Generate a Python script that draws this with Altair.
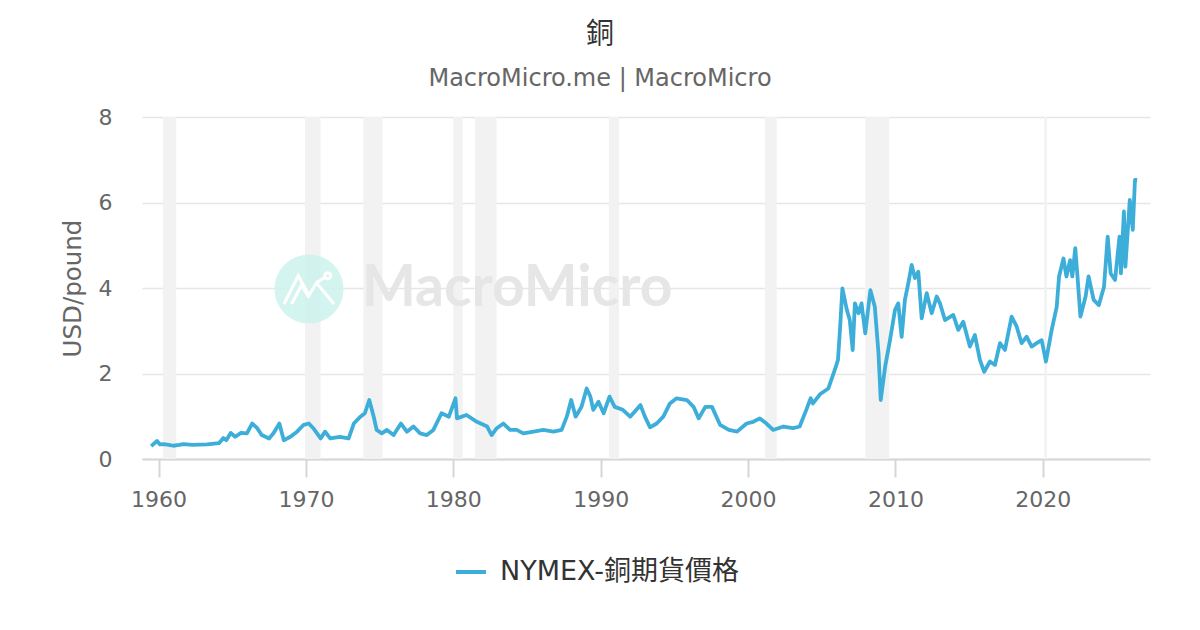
import altair as alt
import pandas as pd

# ---- data ----
years = [1959.5, 1959.6, 1959.9, 1960.1, 1960.35, 1960.7, 1961.0, 1961.4, 1961.7, 1962.3,
         1963.3, 1964.1, 1964.4, 1964.6, 1964.9, 1965.2, 1965.6, 1966.0, 1966.35, 1966.7,
         1967.0, 1967.5, 1967.8, 1968.2, 1968.5, 1968.95, 1969.4, 1969.85, 1970.2, 1970.5,
         1971.0, 1971.3, 1971.65, 1972.3, 1972.9, 1973.25, 1973.7, 1974.0, 1974.3, 1974.6,
         1974.8, 1975.15, 1975.5, 1975.95, 1976.45, 1976.85, 1977.3, 1977.75, 1978.2, 1978.65,
         1979.2, 1979.7, 1980.15, 1980.25, 1980.9, 1981.6, 1982.3, 1982.6, 1982.95, 1983.4,
         1983.85, 1984.3, 1984.75, 1985.45, 1986.1, 1986.8, 1987.35, 1987.7, 1988.0, 1988.3,
         1988.7, 1989.05, 1989.3, 1989.5, 1989.85, 1990.2, 1990.6, 1990.95, 1991.5, 1992.0,
         1992.7, 1993.0, 1993.35, 1993.8, 1994.25, 1994.7, 1995.15, 1995.85, 1996.3, 1996.65,
         1997.1, 1997.55, 1998.1, 1998.7, 1999.25, 1999.9, 2000.35, 2000.8, 2001.25, 2001.7,
         2002.4, 2003.05, 2003.5, 2003.95, 2004.25, 2004.4, 2004.9, 2005.45, 2005.9, 2006.1,
         2006.25, 2006.4, 2006.7, 2006.9, 2007.1, 2007.25, 2007.5, 2007.7, 2007.95, 2008.3,
         2008.6, 2008.85, 2009.0, 2009.3, 2009.63, 2009.97, 2010.19, 2010.42, 2010.64, 2010.87,
         2011.1, 2011.32, 2011.55, 2011.78, 2012.12, 2012.46, 2012.8, 2013.02, 2013.36, 2013.92,
         2014.26, 2014.6, 2015.05, 2015.39, 2015.73, 2016.02, 2016.41, 2016.75, 2017.09, 2017.43,
         2017.88, 2018.22, 2018.56, 2018.9, 2019.24, 2019.58, 2019.92, 2020.21, 2020.6, 2020.94,
         2021.1, 2021.4, 2021.6, 2021.85, 2022.0, 2022.2, 2022.35, 2022.55, 2022.9, 2023.1,
         2023.45, 2023.8, 2024.15, 2024.4, 2024.6, 2024.9, 2025.2, 2025.3, 2025.5, 2025.6,
         2025.9, 2026.1, 2026.25, 2026.4]
prices = [0.30, 0.33, 0.42, 0.34, 0.35, 0.33, 0.31, 0.33, 0.35, 0.33,
          0.34, 0.37, 0.49, 0.44, 0.61, 0.52, 0.61, 0.60, 0.83, 0.72,
          0.56, 0.48, 0.60, 0.83, 0.44, 0.52, 0.64, 0.80, 0.83, 0.72,
          0.48, 0.64, 0.48, 0.52, 0.48, 0.83, 0.99, 1.07, 1.38, 0.99,
          0.68, 0.60, 0.68, 0.56, 0.83, 0.64, 0.76, 0.60, 0.56, 0.68,
          1.07, 0.99, 1.42, 0.95, 1.03, 0.87, 0.76, 0.56, 0.72, 0.83,
          0.68, 0.68, 0.60, 0.64, 0.68, 0.64, 0.68, 0.99, 1.38, 0.99,
          1.22, 1.65, 1.46, 1.15, 1.34, 1.07, 1.46, 1.22, 1.15, 0.99,
          1.26, 0.99, 0.74, 0.83, 0.99, 1.30, 1.42, 1.38, 1.22, 0.95,
          1.22, 1.22, 0.80, 0.68, 0.64, 0.83, 0.87, 0.95, 0.83, 0.68,
          0.76, 0.72, 0.76, 1.15, 1.42, 1.30, 1.52, 1.65, 2.10, 2.32,
          3.10, 3.99, 3.49, 3.25, 2.55, 3.64, 3.41, 3.64, 2.94, 3.95,
          3.56, 2.47, 1.38, 2.16, 2.78, 3.49, 3.64, 2.86, 3.72, 4.11,
          4.54, 4.23, 4.38, 3.29, 3.88, 3.41, 3.80, 3.64, 3.25, 3.37,
          3.02, 3.21, 2.63, 2.90, 2.32, 2.04, 2.28, 2.20, 2.71, 2.55,
          3.33, 3.10, 2.71, 2.86, 2.63, 2.71, 2.78, 2.28, 3.02, 3.56,
          4.27, 4.69, 4.27, 4.65, 4.27, 4.93, 4.27, 3.33, 3.80, 4.27,
          3.72, 3.60, 4.03, 5.20, 4.34, 4.19, 5.20, 4.34, 5.79, 4.50,
          6.06, 5.36, 6.53, 6.53]
series_name = ["NYMEX-銅期貨價格"]

recession_start = [1960.30, 1969.94, 1973.90, 1980.00, 1981.47, 1990.56, 2001.15, 2007.95, 2020.10]
recession_end = [1961.20, 1971.00, 1975.20, 1980.64, 1982.94, 1991.24, 2001.94, 2009.58, 2020.27]

x_ticks = [1960, 1970, 1980, 1990, 2000, 2010, 2020]
y_ticks = [0, 2, 4, 6, 8]

df = pd.DataFrame({"year": years, "price": prices, "series": series_name[0]})
bands = pd.DataFrame({"start": recession_start, "end": recession_end})

W, H = 1008, 342
LINE_COLOR = "#3daed9"
x_scale = alt.Scale(domain=[1958.88, 2027.27], nice=False, zero=False)
y_scale = alt.Scale(domain=[0, 8], nice=False)

band_layer = alt.Chart(bands).mark_rect(color="#f2f2f2").encode(
    x=alt.X("start:Q", scale=x_scale,
            axis=alt.Axis(values=x_ticks, format="d", title=None, grid=False)),
    x2="end:Q",
)

icon_path = ("M -1,0.6 L -0.43,-0.53 L 0,0.25 L 0.3,-0.25 L 1,0.6 "
             "M -0.7,0.6 L -0.3,-0.15 L 0,0.35 "
             "M 0.3,-0.25 L 0.63,-0.47 "
             "M 0.87,-0.53 A 0.12,0.12 0 1,1 0.63,-0.53 A 0.12,0.12 0 1,1 0.87,-0.53")

wm_circle = alt.Chart(df.head(1)).mark_circle(color="#cdf3ec", opacity=0.85, size=4780).encode(
    x=alt.value(167), y=alt.value(172))
wm_icon = alt.Chart(df.head(1)).mark_point(
    shape=icon_path, filled=False, stroke="white", strokeWidth=3, size=2500, opacity=1
).encode(x=alt.value(167), y=alt.value(172))
wm_text = alt.Chart(df.head(1)).mark_text(
    text="MacroMicro", align="left", baseline="middle", font="Lato",
    fontSize=57, fontWeight="bold", color="#e6e6e6"
).encode(x=alt.value(220), y=alt.value(172))

line_layer = alt.Chart(df).mark_line(strokeWidth=3.8, strokeJoin="round").encode(
    x=alt.X("year:Q", scale=x_scale),
    y=alt.Y("price:Q", scale=y_scale,
            axis=alt.Axis(values=y_ticks, title="USD/pound")),
    color=alt.Color("series:N",
                    scale=alt.Scale(domain=series_name, range=[LINE_COLOR]),
                    legend=alt.Legend(title=None, orient="none", legendX=312, legendY=438,
                                      symbolType="stroke", symbolSize=900,
                                      symbolStrokeWidth=4, labelFontSize=27,
                                      labelFont="DejaVu Sans, Noto Sans CJK TC",
                                      labelColor="#333333", labelOffset=12, padding=0,
                                      labelLimit=500)),
)

chart = alt.layer(band_layer, wm_circle, wm_icon, wm_text, line_layer).properties(
    width=W, height=H,
    background="white",
    padding={"left": 134, "top": 109, "right": 42, "bottom": 163},
    autosize=alt.AutoSizeParams(type="none"),
    title=alt.TitleParams(
        text="銅", subtitle="MacroMicro.me | MacroMicro",
        font="Noto Sans CJK TC", fontSize=28, fontWeight="normal", color="#333333",
        subtitleFont="DejaVu Sans", subtitleFontSize=24, subtitleColor="#666666",
        subtitlePadding=18, anchor="middle", dx=-46, offset=15,
    ),
).configure_view(stroke=None).configure_axisX(
    domainColor="#d6d6d6", domainWidth=2, tickColor="#d6d6d6", tickWidth=2, tickSize=18,
    labelFont="DejaVu Sans", labelFontSize=22, labelColor="#666666", labelPadding=12,
    grid=False,
).configure_axisY(
    domain=False, ticks=False, gridColor="#e6e6e6", gridWidth=1.5,
    labelFont="DejaVu Sans", labelFontSize=22, labelColor="#666666", labelPadding=30,
    titleFont="DejaVu Sans", titleFontSize=24.5, titleColor="#666666", titleFontWeight="normal",
    titlePadding=13,
)

chart.save("out.html", embed_options={"renderer": "svg", "actions": False})
